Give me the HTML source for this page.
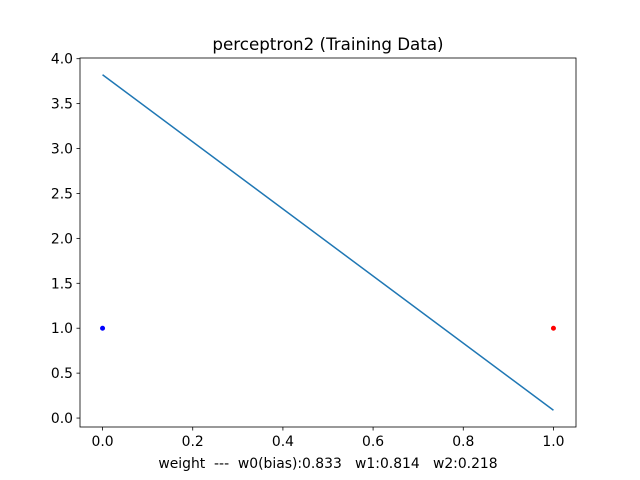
<!DOCTYPE html>
<html><head><meta charset="utf-8"><style>
body{margin:0;background:#fff}
svg{display:block;font-family:"DejaVu Sans","Liberation Sans",sans-serif}
</style></head><body>
<svg id="chart" width="640" height="480"></svg>
<script>
const xTicks=[0,0.2,0.4,0.6,0.8,1.0];
const yTicks=[0,0.5,1,1.5,2,2.5,3,3.5,4];
const lineX=[0,1];
const weights=[0.833,0.814,0.218];
const pointsX=[0,1];
const pointsY=[1,1];
const pointColors=["#0000ff","#ff0000"];
const L=80,R=576,T=58,B=427;
const lineY=lineX.map(x=>(weights[0]-weights[1]*x)/weights[2]);
const allY=lineY.concat(pointsY);
let ymin=Math.min(...allY),ymax=Math.max(...allY),m=(ymax-ymin)*0.05;
ymin-=m;ymax+=m;
const xmin=-0.05,xmax=1.05;
const sx=v=>L+(v-xmin)/(xmax-xmin)*(R-L);
const sy=v=>B-(v-ymin)/(ymax-ymin)*(B-T);
const svg=document.getElementById('chart');
const NS='http://www.w3.org/2000/svg';
function mk(t,a,txt){const e=document.createElementNS(NS,t);for(const k in a)e.setAttribute(k,a[k]);if(txt!==undefined)e.textContent=txt;svg.appendChild(e);return e;}
let e;
e=mk('polyline',{points:lineX.map((x,i)=>sx(x)+','+sy(lineY[i])).join(' '),fill:'none',stroke:'#1f77b4','stroke-width':1.5});


pointsX.forEach((x,i)=>{
 e=mk('circle',{cx:sx(x),cy:sy(pointsY[i]),r:2.5,fill:pointColors[i]});
 
 
});
e=mk('rect',{x:L,y:T,width:R-L,height:B-T,fill:'none',stroke:'#000','stroke-width':0.8});


xTicks.forEach(v=>{
 mk('line',{x1:sx(v),x2:sx(v),y1:B,y2:B+3.5,stroke:'#000','stroke-width':0.8});
 e=mk('text',{x:sx(v),y:B+19,'text-anchor':'middle','font-size':13.9},v.toFixed(1));
 
 
});
yTicks.forEach(v=>{
 mk('line',{x1:L-3.5,x2:L,y1:sy(v),y2:sy(v),stroke:'#000','stroke-width':0.8});
 e=mk('text',{x:L-7,y:sy(v)+5,'text-anchor':'end','font-size':13.9},v.toFixed(1));
 
 
});
e=mk('text',{x:328,y:50,'text-anchor':'middle','font-size':16.7},'perceptron2 (Training Data)');


e=mk('text',{x:328,y:468,'text-anchor':'middle','font-size':13.9,style:'white-space:pre'},'weight  ---  w0(bias):'+weights[0].toFixed(3)+'   w1:'+weights[1].toFixed(3)+'   w2:'+weights[2].toFixed(3));


</script>
</body></html>
